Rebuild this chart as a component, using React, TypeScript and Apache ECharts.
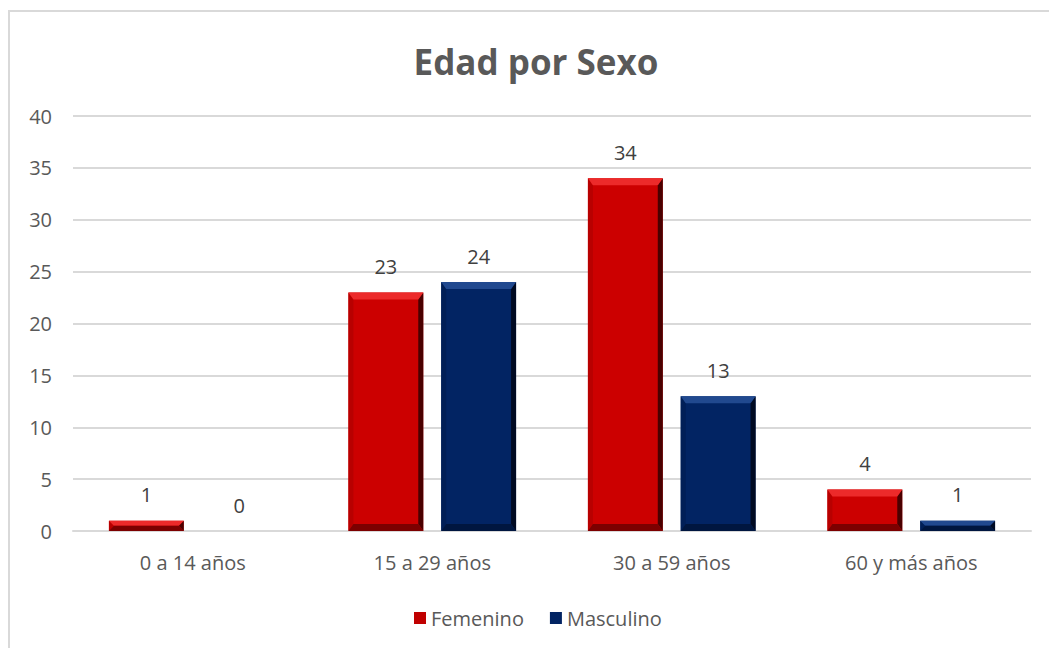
import React, { useEffect, useRef } from "react";
import * as echarts from "echarts";

const categories = ["0 a 14 años", "15 a 29 años", "30 a 59 años", "60 y más años"];
const femenino = [1, 23, 34, 4];
const masculino = [0, 24, 13, 1];
const yTicks = { min: 0, max: 40, interval: 5 };

const FONT = "'Open Sans', Lato, sans-serif";

const palettes: Record<string, any> = {
  Femenino: { face: "#cc0000", top: "#ec2a2a", bottom: "#7c0000", left: "#b80000", right: "#4a0000" },
  Masculino: { face: "#022463", top: "#21498f", bottom: "#00163f", left: "#011f57", right: "#000a22" },
};

function makeRender(name: string, offsetSign: number) {
  const p = palettes[name];
  return (params: any, api: any) => {
    const idx = api.value(0);
    const val = api.value(1);
    const catW = api.size([1, 0])[0];
    const barW = catW * 0.3125;
    const gap = catW * 0.075;
    const base = api.coord([idx, 0]);
    const topPt = api.coord([idx, val]);
    const cx = base[0] + offsetSign * (barW + gap) / 2;
    const x0 = cx - barW / 2;
    const x1 = cx + barW / 2;
    const y1 = base[1];
    const y0 = topPt[1];
    const h = y1 - y0;
    const children: any[] = [];
    if (h > 0.5) {
      const bt = Math.min(7, h / 2);
      const bs = Math.min(5, barW / 2);
      children.push({ type: "rect", shape: { x: x0, y: y0, width: barW, height: h }, style: { fill: p.face } });
      children.push({ type: "polygon", shape: { points: [[x0, y0], [x0 + bs, y0 + bt], [x0 + bs, y1 - bt], [x0, y1]] }, style: { fill: p.left } });
      children.push({ type: "polygon", shape: { points: [[x1, y0], [x1 - bs, y0 + bt], [x1 - bs, y1 - bt], [x1, y1]] }, style: { fill: p.right } });
      children.push({ type: "polygon", shape: { points: [[x0, y0], [x1, y0], [x1 - bs, y0 + bt], [x0 + bs, y0 + bt]] }, style: { fill: p.top } });
      children.push({ type: "polygon", shape: { points: [[x0, y1], [x1, y1], [x1 - bs, y1 - bt], [x0 + bs, y1 - bt]] }, style: { fill: p.bottom } });
    }
    children.push({
      type: "text",
      x: cx,
      y: y0 - 26,
      style: {
        text: String(val),
        fill: "#404040",
        font: `20px ${FONT}`,
        align: "center",
        verticalAlign: "middle",
      },
    });
    return { type: "group", children };
  };
}

export default function App() {
  const ref = useRef<HTMLDivElement>(null);
  useEffect(() => {
    if (!ref.current) return;
    const chart = echarts.init(ref.current, null, { renderer: "svg" });
    chart.setOption({
      animation: false,
      backgroundColor: "#ffffff",
      graphic: [
        {
          type: "rect",
          shape: { x: 9, y: 11, width: 1200, height: 800 },
          style: { fill: "none", stroke: "#d9d9d9", lineWidth: 2 },
          silent: true,
        },
        {
          type: "text",
          x: 536,
          y: 61,
          style: {
            text: "Edad por Sexo",
            font: `bold 35px ${FONT}`,
            fill: "#595959",
            align: "center",
            verticalAlign: "middle",
          },
          silent: true,
        },
      ],
      legend: {
        data: ["Femenino", "Masculino"],
        top: 603,
        left: 409,
        icon: "rect",
        itemWidth: 12,
        itemHeight: 12,
        itemGap: 26,
        textStyle: { fontFamily: FONT, fontSize: 20, color: "#595959" },
      },
      grid: { left: 73, right: 18, top: 116, bottom: 117, containLabel: false },
      xAxis: {
        type: "category",
        data: categories,
        axisLine: { show: true, lineStyle: { color: "#d9d9d9", width: 2 } },
        axisTick: { show: false },
        axisLabel: { fontFamily: FONT, fontSize: 20, color: "#595959", margin: 21 },
      },
      yAxis: {
        type: "value",
        min: yTicks.min,
        max: yTicks.max,
        interval: yTicks.interval,
        axisLine: { show: false },
        axisTick: { show: false },
        splitLine: { lineStyle: { color: "#d9d9d9", width: 2 } },
        axisLabel: { fontFamily: FONT, fontSize: 20, color: "#595959", margin: 21 },
      },
      series: [
        {
          name: "Femenino",
          type: "custom",
          itemStyle: { color: "#c00000" },
          renderItem: makeRender("Femenino", -1),
          data: femenino.map((v, i) => [i, v]),
          encode: { x: 0, y: 1 },
        },
        {
          name: "Masculino",
          type: "custom",
          itemStyle: { color: "#022463" },
          renderItem: makeRender("Masculino", 1),
          data: masculino.map((v, i) => [i, v]),
          encode: { x: 0, y: 1 },
        },
      ],
    });
    return () => chart.dispose();
  }, []);
  return (
    <div
      ref={ref}
      style={{ position: "absolute", left: 0, top: 0, width: 1049, height: 648 }}
    />
  );
}
